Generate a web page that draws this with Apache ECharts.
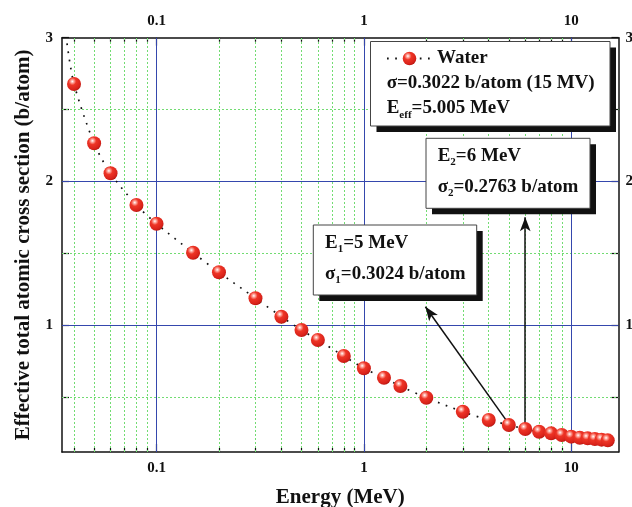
<!DOCTYPE html>
<html><head><meta charset="utf-8">
<script src="https://cdn.jsdelivr.net/npm/echarts@6/dist/echarts.min.js"></script>
<style>html,body{margin:0;padding:0;background:#fff}#c{width:632px;height:507px}</style>
</head><body><div id="c"></div>
<script>
// ---- data ----
const energies = [0.04,0.05,0.06,0.08,0.1,0.15,0.2,0.3,0.4,0.5,0.6,0.8,1,1.25,1.5,2,3,4,5,6,7,8,9,10,11,12,13,14,15];
const sigma = [2.678,2.265,2.056,1.835,1.705,1.503,1.367,1.186,1.058,0.965,0.896,0.784,0.699,0.633,0.575,0.494,0.396,0.339,0.304,0.276,0.257,0.246,0.234,0.223,0.215,0.211,0.206,0.202,0.197];
const curveStart = [0.037, 2.96];
const xMajor = [0.1, 1, 10];
const xMinor = [0.04,0.05,0.06,0.07,0.08,0.09,0.2,0.3,0.4,0.5,0.6,0.7,0.8,0.9,2,3,4,5,6,7,8,9];
const yMajor = [1, 2];
const yMinor = [0.5, 1.5, 2.5];
const yTicks = [0.5, 1, 1.5, 2, 2.5, 3];
const yLabels = [1, 2, 3];
const arrow1 = [[4.91, 0.327], [1.98, 1.127]];
const arrow2 = [[6, 0.318], [6, 1.75]];

const SERIF = '"Liberation Serif", "Times New Roman", serif';
const sphere = {
  type: 'radial', x: 0.38, y: 0.32, r: 0.75,
  colorStops: [
    {offset: 0, color: '#ffffff'},
    {offset: 0.13, color: '#ffb0a6'},
    {offset: 0.36, color: '#ee3526'},
    {offset: 0.78, color: '#d8221a'},
    {offset: 1, color: '#a6120c'}
  ]
};
const XMIN = 0.035, XMAX = 16.9, YMIN = 0.116, YMAX = 3;
const lblStyle = {color: '#111', fontFamily: SERIF, fontWeight: 'bold', fontSize: 15};
const axLine = {show: true, onZero: false, lineStyle: {color: '#111', width: 1.5}};
const fmt = v => String(+Number(v).toPrecision(6));

function xAx(pos, ticks, len, labels, line, extra) {
  return Object.assign({
    type: 'log', logBase: 10, min: XMIN, max: XMAX, position: pos, gridIndex: 0,
    axisLine: line ? axLine : {show: false},
    axisTick: {show: true, inside: true, length: len, customValues: ticks, lineStyle: {color: '#111', width: 1.2}},
    axisLabel: labels ? Object.assign({show: true, customValues: labels, margin: 9, formatter: fmt}, lblStyle) : {show: false},
    splitLine: {show: false}, minorTick: {show: false}, minorSplitLine: {show: false}
  }, extra || {});
}
function yAx(pos, extra) {
  return Object.assign({
    type: 'value', min: YMIN, max: YMAX, position: pos, gridIndex: 0,
    axisLine: axLine,
    axisTick: {show: true, inside: true, length: 7, customValues: yTicks, lineStyle: {color: '#111', width: 1.2}},
    axisLabel: Object.assign({show: true, customValues: yLabels, margin: pos === 'left' ? 9 : 7, formatter: fmt}, lblStyle),
    splitLine: {show: false}
  }, extra || {});
}

const mStyle = {font: 'bold 19px ' + SERIF, lineHeight: 24, fill: '#111'};
const sStyle = {font: 'bold 11px ' + SERIF, lineHeight: 6, verticalAlign: 'bottom', fill: '#111'};
function txt(x, y, t) {
  return {type: 'text', z: 100, silent: true,
    style: {x: x, y: y, text: t, align: 'left', verticalAlign: 'middle', font: 'bold 19px ' + SERIF, fill: '#111',
      rich: {m: mStyle, s: sStyle}}};
}
function box(x, y, w, h) {
  return [
    {type: 'rect', z: 98, silent: true, shape: {x: x + 6, y: y + 6, width: w, height: h}, style: {fill: '#111'}},
    {type: 'rect', z: 99, silent: true, shape: {x: x, y: y, width: w, height: h}, style: {fill: '#fff', stroke: '#444', lineWidth: 1}}
  ];
}

const gridGreen = {color: '#72dc72', width: 1, type: [2, 2]};
const gridBlue = {color: '#3547ad', width: 1, type: 'solid'};

const chart = echarts.init(document.getElementById('c'), null, {renderer: 'canvas'});
chart.setOption({
  animation: false,
  backgroundColor: '#fff',
  grid: {left: 62, right: 13.5, top: 37.7, bottom: 55, containLabel: false, outerBoundsMode: 'none'},
  legend: {
    show: true, left: 386, top: 49, padding: 0, itemWidth: 45, itemHeight: 17, z: 101,
    textStyle: {color: '#111', fontFamily: SERIF, fontWeight: 'bold', fontSize: 19},
    data: ['Water']
  },
  xAxis: [
    xAx('bottom', xMajor, 8, xMajor, true, {name: 'Energy (MeV)', nameLocation: 'middle', nameGap: 35,
      nameTextStyle: {color: '#111', fontFamily: SERIF, fontWeight: 'bold', fontSize: 21}}),
    xAx('bottom', xMinor, 4, null, false),
    xAx('top', xMajor, 8, xMajor, true),
    xAx('top', xMinor, 4, null, false)
  ],
  yAxis: [
    yAx('left', {name: 'Effective total atomic cross section (b/atom)', nameLocation: 'middle', nameGap: 28,
      nameTextStyle: {color: '#111', fontFamily: SERIF, fontWeight: 'bold', fontSize: 21}}),
    yAx('right')
  ],
  series: [
    {
      type: 'line', data: [], z: 1, silent: true,
      markLine: {
        silent: true, symbol: 'none', label: {show: false}, animation: false,
        data: [].concat(
          xMinor.map(v => ({xAxis: v, lineStyle: gridGreen})),
          yMinor.map(v => ({yAxis: v, lineStyle: gridGreen})),
          xMajor.map(v => ({xAxis: v, lineStyle: gridBlue})),
          yMajor.map(v => ({yAxis: v, lineStyle: gridBlue}))
        )
      }
    },
    {
      type: 'line', data: [], z: 6, silent: true,
      markLine: {
        silent: true, symbol: ['none', 'arrow'], symbolSize: [8, 14], label: {show: false}, animation: false,
        lineStyle: {color: '#111', width: 1.5, type: 'solid'},
        data: [
          [{coord: arrow1[0]}, {coord: arrow1[1]}],
          [{coord: arrow2[0]}, {coord: arrow2[1]}]
        ]
      }
    },
    {
      name: 'Water', type: 'line', z: 5,
      data: [{value: curveStart, symbol: 'none'}].concat(energies.map((e, i) => [e, sigma[i]])),
      smooth: 0.3, symbol: 'circle', symbolSize: 14, showSymbol: true,
      itemStyle: {color: sphere},
      lineStyle: {color: '#111', width: 1.7, type: [1.7, 6.5]}
    }
  ],
  graphic: [].concat(
    box(370.5, 41.5, 239.5, 84.5),
    box(426, 138.3, 164, 70),
    box(313.3, 225, 163.4, 70),
    [
      txt(386.7, 83.3, 'σ=0.3022 b/atom (15 MV)'),
      txt(386.7, 108.3, '{m|E}{s|eff}{m|=5.005 MeV}'),
      txt(437.7, 156, '{m|E}{s|2}{m|=6 MeV}'),
      txt(437.7, 186.7, '{m|σ}{s|2}{m|=0.2763 b/atom}'),
      txt(325, 242.7, '{m|E}{s|1}{m|=5 MeV}'),
      txt(325, 274, '{m|σ}{s|1}{m|=0.3024 b/atom}')
    ]
  )
});
</script></body></html>
